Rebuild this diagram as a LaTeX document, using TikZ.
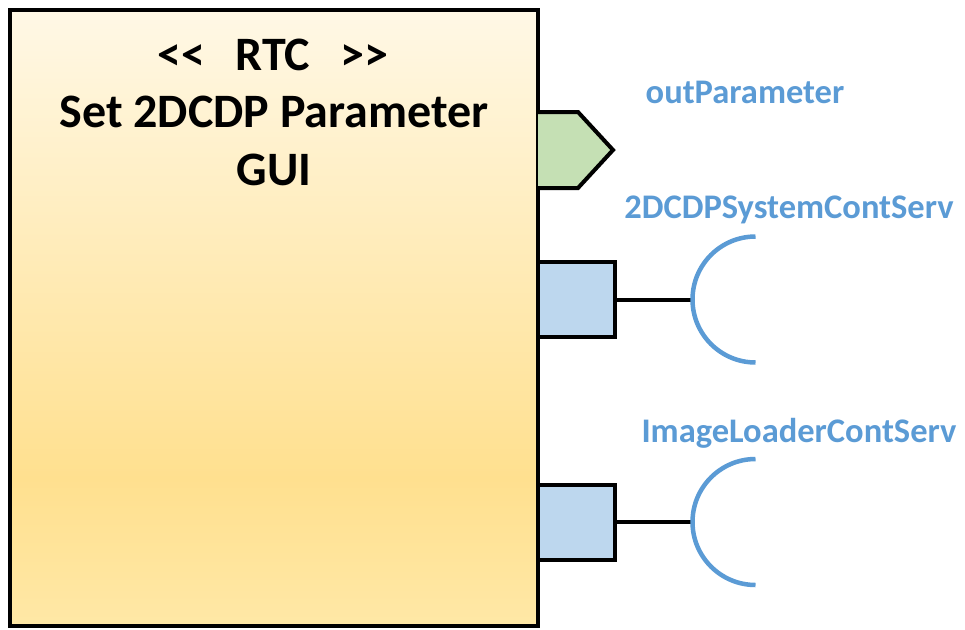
\documentclass[tikz,border=0pt]{standalone}
\usepackage{fontspec}
\setmainfont{Carlito}
\definecolor{boxtop}{HTML}{FFF8E6}
\definecolor{boxmid}{HTML}{FFE08F}
\definecolor{boxbot}{HTML}{FFE8A6}
\definecolor{outfill}{HTML}{C5E0B4}
\definecolor{svcfill}{HTML}{BDD7EE}
\definecolor{svcblue}{HTML}{5B9BD5}
\pgfdeclareverticalshading{rtcshade}{100bp}{color(0bp)=(boxbot); color(25bp)=(boxbot); color(37bp)=(boxmid); color(75bp)=(boxtop); color(100bp)=(boxtop)}
\tikzset{
  border/.style={draw=black, line width=4pt, outer sep=0pt},
  title/.style={font=\bfseries\fontsize{48}{56}\selectfont, anchor=base},
  lbl/.style={font=\bfseries\fontsize{34.5}{40}\selectfont, text=svcblue, anchor=base},
  svcport/.style={border, fill=svcfill, minimum width=76.5pt, minimum height=75pt, inner sep=0pt},
  wire/.style={draw=black, line width=4pt},
  socket/.style={draw=svcblue, line width=4.5pt}
}
\begin{document}
\begin{tikzpicture}[x=1pt,y=-1pt]
\useasboundingbox (0,0) rectangle (965,629);
% main component
\node[border, shading=rtcshade, minimum width=528pt, minimum height=616pt, inner sep=0pt, anchor=north west] (rtc) at (10,10) {};
\node[title] (t1) at (273,70) {<{}<\hspace{30pt}RTC\hspace{30pt}>{}>};
\node[title] (t2) at (274,127) {Set 2DCDP Parameter};
\node[title] (t3) at (274,185) {GUI};
% out port
\coordinate (op1) at (538,112);
\coordinate (op2) at (578,112);
\coordinate (op3) at (613,150);
\coordinate (op4) at (578,188);
\coordinate (op5) at (538,188);
\draw[border, fill=outfill, line join=miter] (op1) -- (op2) -- (op3) -- (op4) -- (op5);
\node[lbl] (l1) at (745,103) {outParameter};
% service port 1
\node[svcport] (sp1) at (576.25,299.5) {};
\path (sp1.east) ++(78,0) coordinate (s1);
\draw[wire] (sp1.east) -- (s1);
\draw[socket] (s1) ++(63,-63) arc[start angle=-90, end angle=-270, radius=63];
\node[lbl] (l2) at (789,218) {2DCDPSystemContServ};
% service port 2
\node[svcport] (sp2) at (576.25,522) {};
\path (sp2.east) ++(78,0) coordinate (s2);
\draw[wire] (sp2.east) -- (s2);
\draw[socket] (s2) ++(63,-63) arc[start angle=-90, end angle=-270, radius=63];
\node[lbl] (l3) at (799,442) {ImageLoaderContServ};
\end{tikzpicture}
\end{document}
